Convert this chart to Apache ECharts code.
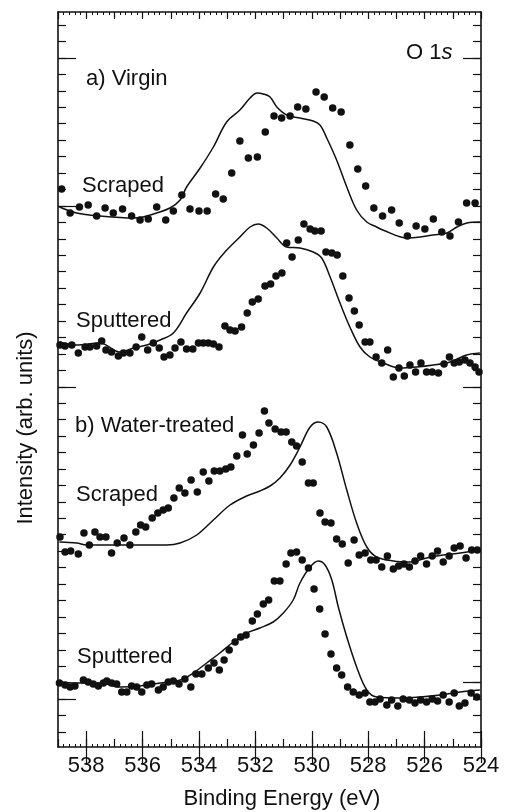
<!DOCTYPE html>
<html><head><meta charset="utf-8">
<script src="https://cdn.jsdelivr.net/npm/echarts@6/dist/echarts.min.js"></script>
<style>html,body{margin:0;padding:0;background:#fff}#c{width:507px;height:812px}</style>
</head><body><div id="c"></div>
<script>
// Binding energy (eV) vs intensity (arb. units, spectra offset vertically)
const xTickLabels = [538, 536, 534, 532, 530, 528, 526, 524];

const virginScrapedFit = [[538.95,540],[538.34,534],[537.51,531],[536.33,529],[535.98,530],[535.50,534],[535.03,539],[534.67,547],[534.44,560],[533.96,579],[533.49,600],[533.02,625],[532.55,637],[532.19,649],[531.94,654],[531.72,653],[531.48,650],[531.24,640],[530.89,632],[530.42,629],[529.95,626],[529.71,622],[529.47,609],[529.12,587],[528.76,560],[528.41,537],[528.05,525],[527.70,520],[527.48,517],[526.62,509],[526.16,510],[525.70,512],[525.21,514],[524.85,520],[524.50,524],[524.04,525]];
const virginScrapedData = [[538.87,558],[538.57,534],[538.24,540],[537.93,542],[537.63,531],[537.33,539],[537.04,534],[536.71,538],[536.39,531],[536.09,527],[535.80,528],[535.50,540],[535.18,527],[534.91,536],[534.61,552],[534.32,538],[534.00,536],[533.71,536],[533.41,553],[533.14,548],[532.84,574],[532.55,606],[532.25,589],[531.93,590],[531.65,615],[531.34,631],[531.07,629],[530.77,631],[530.50,640],[530.21,638],[529.85,655],[529.56,650],[529.26,639],[528.96,635],[528.65,602],[528.37,578],[528.09,561],[527.80,539],[527.49,531],[527.17,537],[526.90,524],[526.61,511],[526.30,521],[525.99,518],[525.69,528],[525.39,515],[525.10,511],[524.80,525],[524.51,544],[524.21,544]];

const virginSputteredFit = [[538.95,405],[538.34,402],[537.51,404],[536.80,395],[536.33,399],[535.85,402],[535.38,407],[534.91,414],[534.44,434],[533.96,454],[533.49,480],[533.08,495],[532.55,510],[532.19,520],[531.90,523],[531.60,519],[531.24,509],[530.89,500],[530.42,499],[529.95,495],[529.65,489],[529.35,470],[529.00,444],[528.65,420],[528.29,400],[527.94,390],[527.46,384],[526.87,379],[526.28,380],[525.69,382],[525.10,385],[524.51,392],[524.04,394]];
const virginSputteredData = [[538.93,402],[538.75,401],[538.51,402],[538.28,394],[538.04,400],[537.87,400],[537.63,401],[537.45,406],[537.30,397],[537.10,395],[536.86,391],[536.68,394],[536.45,394],[536.23,400],[536.03,410],[535.82,397],[535.62,404],[535.41,399],[535.24,390],[535.03,392],[534.85,399],[534.64,405],[534.44,398],[534.22,398],[534.02,404],[533.85,404],[533.67,404],[533.49,403],[533.29,400],[533.08,421],[532.90,417],[532.72,416],[532.49,420],[532.29,434],[532.11,445],[531.90,448],[531.66,461],[531.46,463],[531.27,471],[531.06,474],[530.89,504],[530.70,490],[530.48,507],[530.28,523],[530.06,518],[529.89,516],[529.67,516],[529.50,495],[529.29,494],[529.10,492],[528.90,471],[528.68,449],[528.49,436],[528.32,422],[528.11,405],[527.94,405],[527.72,390],[527.52,384],[527.31,397],[527.11,370],[526.91,379],[526.72,371],[526.52,382],[526.32,375],[526.13,384],[525.93,375],[525.73,375],[525.51,374],[525.31,383],[525.12,390],[524.95,384],[524.77,385],[524.57,387],[524.39,384],[524.21,380],[524.07,375]];

const waterScrapedFit = [[538.95,205],[538.34,204],[537.98,202],[536.92,202],[535.98,202],[535.15,202],[534.67,204],[534.08,212],[533.49,227],[532.90,242],[532.31,251],[531.84,256],[531.48,261],[531.13,269],[530.77,282],[530.42,300],[530.06,320],[529.77,325],[529.47,320],[529.12,294],[528.76,257],[528.41,224],[528.05,200],[527.70,190],[527.11,186],[526.52,185],[525.93,189],[525.34,192],[524.74,194],[524.04,197]];
const waterScrapedData = [[538.93,210],[538.75,195],[538.55,196],[538.28,193],[538.08,214],[537.89,202],[537.69,215],[537.51,210],[537.30,210],[537.10,194],[536.90,204],[536.66,209],[536.45,202],[536.24,215],[536.07,222],[535.89,220],[535.66,229],[535.46,234],[535.27,237],[535.09,239],[534.89,249],[534.70,259],[534.50,254],[534.28,267],[534.06,255],[533.85,275],[533.65,266],[533.46,276],[533.26,276],[533.05,278],[532.87,280],[532.66,291],[532.46,312],[532.29,293],[532.07,302],[531.87,314],[531.68,336],[531.52,324],[531.30,318],[531.09,315],[530.91,315],[530.71,305],[530.54,301],[530.34,285],[530.12,264],[529.95,264],[529.71,234],[529.53,225],[529.32,224],[529.12,208],[528.92,203],[528.71,184],[528.50,207],[528.32,192],[528.11,194],[527.91,187],[527.72,187],[527.52,180],[527.32,191],[527.11,178],[526.92,181],[526.73,183],[526.54,180],[526.34,186],[526.14,191],[525.93,183],[525.73,191],[525.54,196],[525.34,185],[525.13,191],[524.95,199],[524.74,201],[524.53,189],[524.33,197],[524.13,197]];

const waterSputteredFit = [[539.00,65],[538.34,64],[537.51,64],[536.80,60],[536.09,61],[535.38,64],[534.67,67],[534.20,74],[533.73,84],[533.26,94],[532.78,105],[532.31,114],[531.84,119],[531.37,125],[531.01,134],[530.66,147],[530.42,164],[530.06,180],[529.77,186],[529.53,182],[529.29,167],[529.06,140],[528.76,110],[528.41,80],[528.05,57],[527.70,50],[526.87,49],[526.16,50],[525.45,52],[524.74,55],[524.04,57]];
const waterSputteredData = [[538.95,64],[538.75,62],[538.57,60],[538.40,61],[538.10,67],[537.93,65],[537.75,63],[537.57,61],[537.39,64],[537.27,66],[537.10,64],[536.92,63],[536.74,55],[536.56,55],[536.39,61],[536.21,60],[536.03,55],[535.85,62],[535.68,63],[535.44,57],[535.27,60],[535.09,65],[534.91,66],[534.71,63],[534.50,68],[534.29,60],[534.11,73],[533.90,73],[533.67,79],[533.47,84],[533.28,77],[533.11,87],[532.93,97],[532.72,105],[532.52,110],[532.33,112],[532.11,126],[531.93,133],[531.72,143],[531.53,147],[531.33,166],[531.13,166],[530.91,183],[530.74,194],[530.54,195],[530.34,187],[530.12,179],[529.92,158],[529.72,138],[529.53,113],[529.32,93],[529.12,79],[528.94,72],[528.73,60],[528.53,55],[528.32,52],[528.11,54],[527.94,45],[527.76,45],[527.58,48],[527.34,42],[527.17,47],[526.95,41],[526.76,48],[526.54,47],[526.34,44],[526.14,47],[525.93,45],[525.73,48],[525.54,46],[525.34,52],[525.13,45],[524.95,54],[524.77,41],[524.57,44],[524.35,54],[524.15,50]];

// y-axis tick positions (arb. units)
const yTicks = [];
for (let k = 0; k < 44; k++) yTicks.push(+(15 + 16.44 * k).toFixed(1));
const yLongLeftIdx = [2, 21, 32, 41];
const yLongRightIdx = [3, 21, 41];

const INK = '#111';
const FONT = '"Liberation Sans", Arial, Helvetica, sans-serif';

const chart = echarts.init(document.getElementById('c'), null, {renderer: 'canvas'});

function xAx(pos, opts) {
  return Object.assign({
    type: 'value', min: 524, max: 539, inverse: true, position: pos, gridIndex: 0,
    splitLine: {show: false}, axisLine: {show: false}, axisLabel: {show: false}, axisTick: {show: false}
  }, opts);
}
function yAx(pos, opts) {
  return Object.assign({
    type: 'value', min: 0, max: 735, position: pos, gridIndex: 0,
    splitLine: {show: false}, axisLine: {show: false}, axisLabel: {show: false}, axisTick: {show: false}
  }, opts);
}

const txt = (text, left, top) => ({type: 'text', left, top, style: {text, fill: INK, font: '22px ' + FONT}});

const option = {
  backgroundColor: '#fff',
  animation: false,
  grid: {left: 58, right: 26, top: 12, bottom: 65},
  xAxis: [
    xAx('bottom', {
      interval: 1,
      axisLine: {show: true, onZero: false, lineStyle: {color: INK, width: 1.6}},
      axisTick: {show: true, inside: true, length: 8, lineStyle: {color: INK, width: 1.2}},
      minorTick: {show: true, splitNumber: 5, length: 3, lineStyle: {color: INK, width: 1}},
      axisLabel: {show: true, customValues: xTickLabels, color: INK, fontSize: 22, fontFamily: FONT, margin: 8}
    }),
    xAx('bottom', {axisTick: {show: true, inside: true, length: 16, customValues: xTickLabels, lineStyle: {color: INK, width: 1.2}}}),
    xAx('top', {
      interval: 1,
      axisLine: {show: true, onZero: false, lineStyle: {color: INK, width: 1.6}},
      axisTick: {show: true, inside: true, length: 7, lineStyle: {color: INK, width: 1.2}},
      minorTick: {show: true, splitNumber: 5, length: 3, lineStyle: {color: INK, width: 1}}
    }),
    xAx('top', {axisTick: {show: true, inside: true, length: 16, customValues: xTickLabels, lineStyle: {color: INK, width: 1.2}}})
  ],
  yAxis: [
    yAx('left', {
      axisLine: {show: true, onZero: false, lineStyle: {color: INK, width: 1.6}},
      axisTick: {show: true, inside: true, length: 8, customValues: yTicks, lineStyle: {color: INK, width: 1.2}}
    }),
    yAx('left', {axisTick: {show: true, inside: true, length: 18, customValues: yLongLeftIdx.map(k => yTicks[k]), lineStyle: {color: INK, width: 1.2}}}),
    yAx('right', {
      axisLine: {show: true, onZero: false, lineStyle: {color: INK, width: 1.6}},
      axisTick: {show: true, inside: true, length: 8, customValues: yTicks, lineStyle: {color: INK, width: 1.2}}
    }),
    yAx('right', {axisTick: {show: true, inside: true, length: 18, customValues: yLongRightIdx.map(k => yTicks[k]), lineStyle: {color: INK, width: 1.2}}})
  ],
  series: [
    ...[virginScrapedFit, virginSputteredFit, waterScrapedFit, waterSputteredFit].map(d => ({
      type: 'line', data: d, xAxisIndex: 0, yAxisIndex: 0, smooth: 0.35, showSymbol: false,
      lineStyle: {color: INK, width: 1.5}, z: 3
    })),
    ...[virginScrapedData, virginSputteredData, waterScrapedData, waterSputteredData].map(d => ({
      type: 'scatter', data: d, xAxisIndex: 0, yAxisIndex: 0, symbol: 'circle', symbolSize: 7.5,
      itemStyle: {color: INK, opacity: 1}, z: 4
    }))
  ],
  graphic: [
    {type: 'text', left: 406, top: 42, style: {text: 'O 1{i|s}', fill: INK, font: '22px ' + FONT,
      rich: {i: {fontStyle: 'italic', fontSize: 22, fontFamily: FONT, fill: INK}}}},
    txt('a) Virgin', 86, 68),
    txt('Scraped', 82, 175),
    txt('Sputtered', 76, 310),
    txt('b) Water-treated', 75, 415),
    txt('Scraped', 76, 484),
    txt('Sputtered', 77, 646),
    {type: 'text', x: 282, y: 799, style: {text: 'Binding Energy (eV)', fill: INK, font: '22px ' + FONT, align: 'center', verticalAlign: 'middle'}},
    {type: 'text', x: 26, y: 428, rotation: Math.PI / 2, style: {text: 'Intensity (arb. units)', fill: INK, font: '22px ' + FONT, align: 'center', verticalAlign: 'middle'}}
  ]
};
chart.setOption(option);
</script></body></html>
